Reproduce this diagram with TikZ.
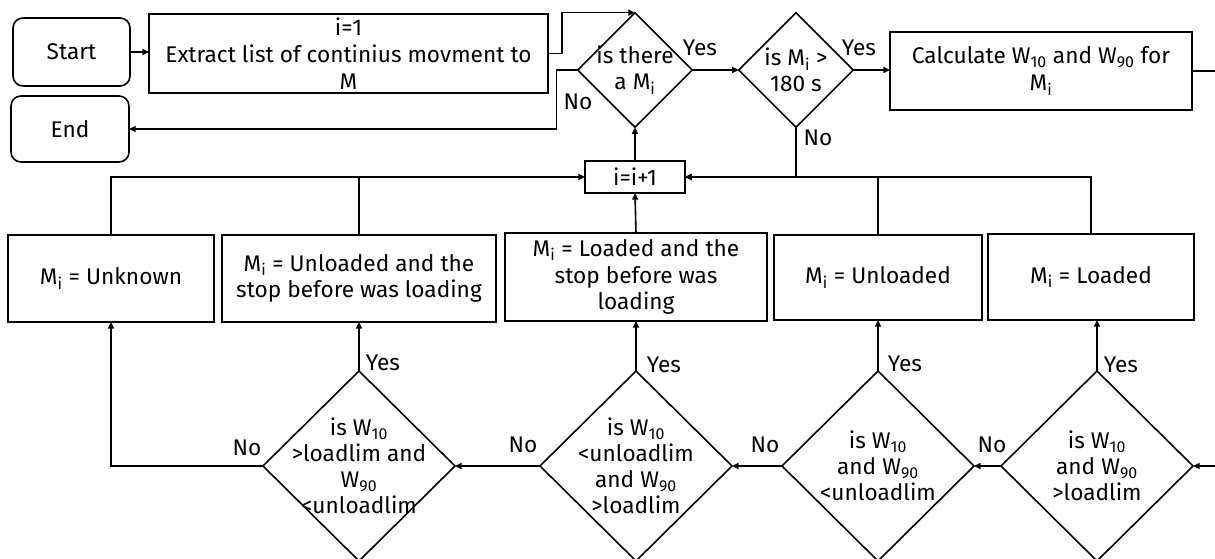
\documentclass[tikz,border=0pt]{standalone}
\usepackage{fontspec}
\setmainfont{Fira Sans}
\usetikzlibrary{shapes.geometric,arrows.meta}

\tikzset{every picture/.style={line width=1.2pt}}
\tikzset{
  flowbox/.style={draw, rectangle, inner sep=1pt, outer sep=0pt, align=center, font=\fontsize{17}{20}\selectfont},
  termbox/.style={flowbox, rounded corners=7.5pt},
  decision/.style={draw, diamond, inner sep=0pt, outer sep=0pt},
  lbl/.style={font=\fontsize{17}{19.5}\selectfont, inner sep=1pt, align=center},
  arr/.style={-{Triangle[length=5pt,width=4.5pt]}}
}

\begin{document}
\begin{tikzpicture}[x=0.75pt,y=0.75pt,yscale=-1,xscale=1]
\useasboundingbox (0,0) rectangle (1215,559);

%Shape: Rounded Rect [start / end]
\node[termbox, minimum width=87.75pt, minimum height=51pt] (start) at (71.5,52) {Start};
\node[termbox, minimum width=88.5pt, minimum height=49.5pt] (finish) at (70,129) {End};
%Shape: Rectangle [top row]
\node[flowbox, minimum width=299.25pt, minimum height=59.25pt] (extract) at (348.5,53.5) {i=1\\Extract list of continius movment to\\M};
\node[flowbox, minimum width=226.5pt, minimum height=58.5pt] (calc) at (1041,71) {Calculate W\textsubscript{10} and W\textsubscript{90} for\\M\textsubscript{i}};
\node[flowbox, minimum width=75pt, minimum height=24pt] (incr) at (635,177) {i=i+1};
%Shape: Diamond [top row]
\node[decision, minimum width=86pt, minimum height=86pt, label={[lbl]center:{is there\\a M\textsubscript{i}}}] (q1) at (635,70) {};
\node[decision, minimum width=86pt, minimum height=86pt, label={[lbl]center:{is M\textsubscript{i} >\\180 s}}] (q2) at (796,70) {};
%Shape: Rectangle [result row]
\node[flowbox, minimum width=154.5pt, minimum height=65.25pt] (unk) at (111,278.5) {M\textsubscript{i} = Unknown};
\node[flowbox, minimum width=205.5pt, minimum height=65.25pt] (unlstop) at (359,278.5) {M\textsubscript{i} = Unloaded and the\\stop before was loading};
\node[flowbox, minimum width=196.5pt, minimum height=66pt] (ldstop) at (636,277) {M\textsubscript{i} = Loaded and the\\stop before was\\loading};
\node[flowbox, minimum width=156pt, minimum height=63.75pt] (unl) at (878,277.5) {M\textsubscript{i} = Unloaded};
\node[flowbox, minimum width=154.5pt, minimum height=64.5pt] (ld) at (1091,277) {M\textsubscript{i} = Loaded};
%Shape: Diamond [test row]
\node[decision, minimum width=144pt, minimum height=142.5pt, label={[lbl]center:{is W\textsubscript{10}\\>loadlim and\\W\textsubscript{90}\\<unloadlim}}] (c1) at (359,466) {};
\node[decision, minimum width=144pt, minimum height=142.5pt, label={[lbl]center:{is W\textsubscript{10}\\<unloadlim\\and W\textsubscript{90}\\>loadlim}}] (c2) at (636,466) {};
\node[decision, minimum width=144pt, minimum height=142.5pt, label={[lbl]center:{is W\textsubscript{10}\\and W\textsubscript{90}\\<unloadlim}}] (c3) at (878,466) {};
\node[decision, minimum width=144pt, minimum height=142.5pt, label={[lbl]center:{is W\textsubscript{10}\\and W\textsubscript{90}\\>loadlim}}] (c4) at (1097,466) {};

\coordinate (rout) at (1215,71);
\coordinate (rin) at (1215,466);

%Straight Lines [top row]
\draw[arr] (start.east) -- (start.east -| extract.west);
\draw[arr] (extract.east) -- ++(14,0) |- (q1.north);
\draw[arr] (q1.west) -- ++(-21,0) |- (finish.east);
\draw[arr] (q1.east) -- (q2.west);
\draw[arr] (q2.east) -- (q2.east -| calc.west);
\draw (calc.east) -- (rout);
\draw[arr] (q2.south) |- (incr.east);
\draw[arr] (incr.north) -- (q1.south);
%Straight Lines [back to i=i+1]
\draw[arr] (unk.north) |- (incr.west);
\draw (unlstop.north) -- (unlstop.north |- incr.west);
\draw[arr] (ldstop.north) -- (incr.south);
\draw (unl.north) -- (unl.north |- incr.east);
\draw[arr] (ld.north) |- (incr.east);
%Straight Lines [test chain]
\draw[arr] (rin) -- (c4.east);
\draw[arr] (c4.west) -- (c3.east);
\draw[arr] (c3.west) -- (c2.east);
\draw[arr] (c2.west) -- (c1.east);
\draw[arr] (c1.west) -| (unk.south);
\draw[arr] (c1.north) -- (c1.north |- unlstop.south);
\draw[arr] (c2.north) -- (c2.north |- ldstop.south);
\draw[arr] (c3.north) -- (c3.north |- unl.south);
\draw[arr] (c4.north) -- (c4.north |- ld.south);

% Text Node
\node[lbl] (yes1) at (700,48) {Yes};
\node[lbl] (no1) at (578,102) {No};
\node[lbl] (yes2) at (859,48) {Yes};
\node[lbl] (no2) at (818,138) {No};
\node[lbl] (yes3) at (383,363) {Yes};
\node[lbl] (yes4) at (664,365) {Yes};
\node[lbl] (yes5) at (905,364) {Yes};
\node[lbl] (yes6) at (1121,365) {Yes};
\node[lbl] (no3) at (992,445) {No};
\node[lbl] (no4) at (765,445) {No};
\node[lbl] (no5) at (523,445) {No};
\node[lbl] (no6) at (247,448) {No};

\end{tikzpicture}
\end{document}
